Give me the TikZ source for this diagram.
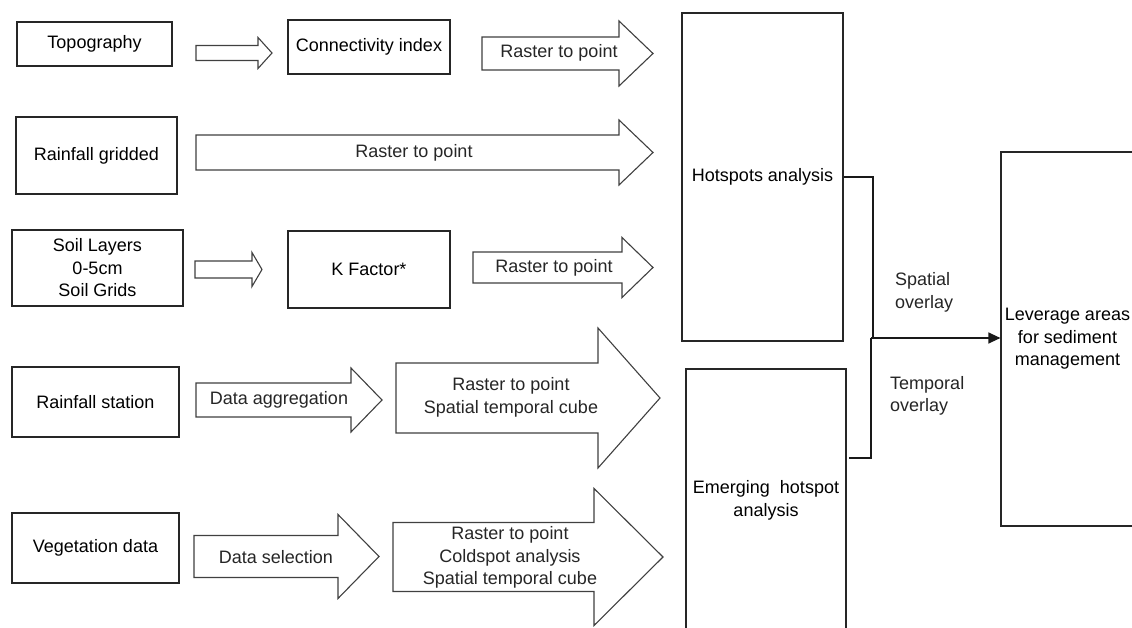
\documentclass[tikz,border=0pt]{standalone}
\usepackage{fontspec}
\setmainfont{Liberation Sans}
\usetikzlibrary{arrows.meta}
\newcommand{\blockarr}[7]{%
  \draw[blockarrow] (#1,{#4-#5}) -- (#2,{#4-#5}) -- (#2,{#4-#6}) -- (#3,#4)
    -- (#2,{#4+#6}) -- (#2,{#4+#5}) -- (#1,{#4+#5}) -- cycle;
  \coordinate (#7) at ({(#1+#2)/2},#4);}
\begin{document}
\begin{tikzpicture}[x=1pt,y=-1pt,
  font=\fontsize{18}{22.5}\selectfont,
  box/.style={draw=black!85,line width=1.2pt,rectangle,inner sep=0pt,align=center},
  blockarrow/.style={draw=black!75,line width=1.1pt,fill=white,line join=miter},
  lbl/.style={inner sep=0pt,align=center,text=black!85},
  conn/.style={draw=black!90,line width=1.2pt}]
\useasboundingbox (0,0) rectangle (1132,628);
\fill[white] (0,0) rectangle (1132,628);
% boxes
\node[box,minimum width=155pt,minimum height=44pt] (topo) at (94.5,44) {Topography};
\node[box,minimum width=162pt,minimum height=54pt] (conn) at (369,47) {Connectivity index};
\node[box,minimum width=161pt,minimum height=77pt] (rgrid) at (96.5,155.5) {Rainfall gridded};
\node[box,minimum width=171pt,minimum height=76pt] (soil) at (97.5,268) {Soil Layers\\0-5cm\\Soil Grids};
\node[box,minimum width=162pt,minimum height=77pt] (kfac) at (369,269.5) {K Factor*};
\node[box,minimum width=167pt,minimum height=70pt] (rstat) at (95.5,402) {Rainfall station};
\node[box,minimum width=167pt,minimum height=70pt] (veg) at (95.5,548) {Vegetation data};
\node[box,minimum width=161pt,minimum height=328pt] (hot) at (762.5,177) {Hotspots analysis};
\node[box,minimum width=160pt,minimum height=263pt] (emer) at (766,500.5) {Emerging\ \ hotspot\\analysis};
\node[box,minimum width=133pt,minimum height=374pt] (lev) at (1067.5,339) {Leverage areas\\for sediment\\management};
% block arrows
\blockarr{196}{258}{272}{53}{7.5}{15.5}{a1}
\blockarr{482}{619}{653}{53.5}{16.5}{32.5}{a2}
\blockarr{196}{619}{653}{152.5}{17.5}{32.5}{a3}
\blockarr{195}{252}{262}{269.5}{8.5}{17}{a4}
\blockarr{473}{622}{653}{267.5}{15.5}{30}{a5}
\blockarr{196}{351}{382}{400}{17}{32}{a6}
\blockarr{396}{598}{660}{398}{35}{70}{a7}
\blockarr{194}{338}{379}{556.5}{21}{42}{a8}
\blockarr{393}{594}{663}{557}{34.5}{68.5}{a9}
% arrow labels
\node[lbl] (t2) at (559,53) {Raster to point};
\node[lbl] (t3) at (414,153) {Raster to point};
\node[lbl] (t5) at (554,268) {Raster to point};
\node[lbl] (t6) at (279,400) {Data aggregation};
\node[lbl] (t7) at (511,397.5) {Raster to point\\Spatial temporal cube};
\node[lbl] (t8) at (276,557) {Data selection};
\node[lbl] (t9) at (510,557.5) {Raster to point\\Coldspot analysis\\Spatial temporal cube};
% overlay labels
\node[lbl,anchor=west,align=left] (sp) at (895,292.5) {Spatial\\overlay};
\node[lbl,anchor=west,align=left] (tp) at (890,396) {Temporal\\overlay};
% connectors
\coordinate (j1) at (873,177);
\coordinate (j2) at (871,458);
\coordinate (jm) at (871,338);
\draw[conn] (hot.east |- j1) -- (j1) -- (j1 |- jm);
\draw[conn] (849,458) -- (j2) -- (jm);
\draw[conn,-{Triangle[length=12pt,width=11pt]}] (jm) -- (lev.west |- jm);
\end{tikzpicture}
\end{document}
